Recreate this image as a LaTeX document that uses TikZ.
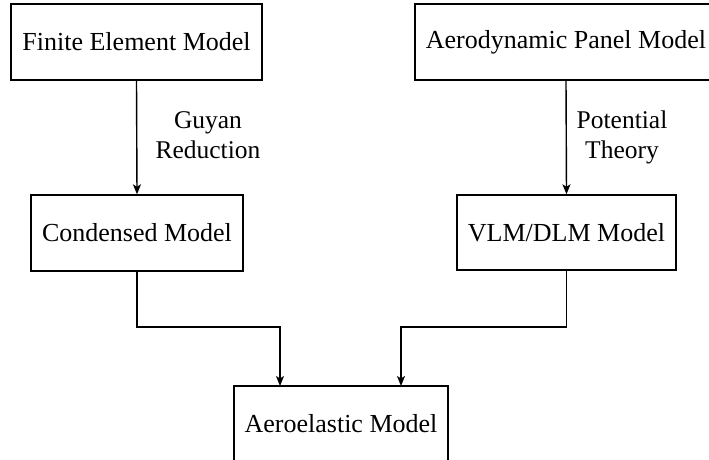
\documentclass[tikz,border=0pt]{standalone}
\usepackage{fontspec}
\setmainfont{Liberation Serif}
\usetikzlibrary{arrows.meta}
\begin{document}
\begin{tikzpicture}[x=1pt,y=-1pt,
  box/.style={draw,line width=1.4pt,rectangle,inner sep=0pt,align=center,font=\fontsize{26}{31}\selectfont},
  lbl/.style={align=center,inner sep=0pt,font=\fontsize{25.5}{30}\selectfont},
  conn/.style={line width=1.4pt,-{Stealth[length=10pt,width=8pt,inset=2.5pt]}},
  wire/.style={line width=1.4pt}]
\clip (0,0) rectangle (709,460);
\useasboundingbox (0,0) rectangle (709,460);
\node[box,minimum width=251pt,minimum height=76pt] (fe) at (136.5,42) {Finite Element Model};
\node[box,minimum width=302pt,minimum height=76pt] (aero) at (566,42) {Aerodynamic Panel Model};
\node[box,minimum width=212pt,minimum height=76pt] (cond) at (137,233) {Condensed Model};
\node[box,minimum width=219pt,minimum height=75pt] (vlm) at (566.5,232.5) {VLM/DLM Model};
\node[box,minimum width=214pt,minimum height=76pt] (ae) at (341,424) {Aeroelastic Model};
\node[lbl] (l1) at (208,135) {Guyan\\Reduction};
\node[lbl] (l2) at (622,137) {Potential\\Theory};
\draw[conn] (fe.south) -- (cond.north);
\draw[conn] (aero.south) -- (vlm.north);
\coordinate (m1) at (137,327);
\coordinate (m2) at (566.5,327);
\coordinate (t1) at (280,386);
\coordinate (t2) at (401,386);
\draw[conn] (cond.south) -- (m1) -| (t1);
\draw[conn] (vlm.south) -- (m2) -| (t2);
\end{tikzpicture}
\end{document}
